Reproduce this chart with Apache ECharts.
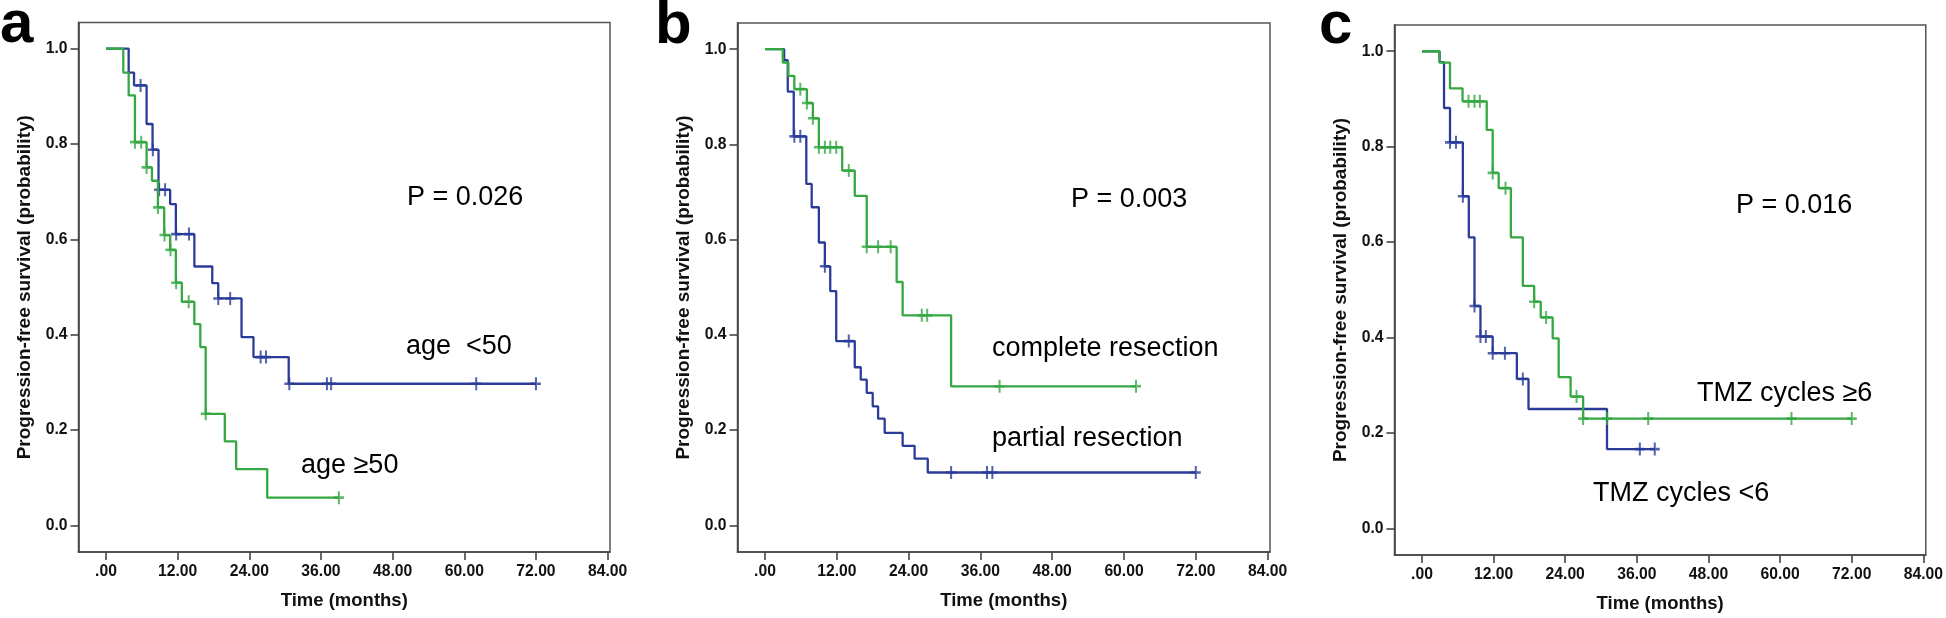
<!DOCTYPE html>
<html><head><meta charset="utf-8">
<script src="https://cdn.jsdelivr.net/npm/echarts@6/dist/echarts.min.js"></script>
<style>html,body{margin:0;padding:0;background:#fff}#c{width:1946px;height:618px}</style>
</head><body><div id="c"></div>
<script>
// ---------- axis ticks ----------
const xTickValues = [0, 12, 24, 36, 48, 60, 72, 84];
const xTickLabels = ['.00', '12.00', '24.00', '36.00', '48.00', '60.00', '72.00', '84.00'];
const yTickValues = [0, 0.2, 0.4, 0.6, 0.8, 1.0];
const yTickLabels = ['0.0', '0.2', '0.4', '0.6', '0.8', '1.0'];

// ---------- panel a : age ----------
const aLt50Times  = [3.8, 4.7, 6.8, 7.8, 8.8, 10.75, 11.7, 14.8, 17.8, 18.8, 22.7, 24.7, 30.6];
const aLt50Surv   = [0.950, 0.923, 0.842, 0.788, 0.704, 0.674, 0.611, 0.543, 0.508, 0.476, 0.395, 0.353, 0.297];
const aLt50Censor = [5.8, 7.85, 8.9, 9.9, 11.75, 13.9, 18.8, 20.8, 25.9, 26.8, 30.7, 37.0, 37.7, 62.0, 72.0];
const aGe50Times  = [2.9, 3.8, 4.85, 6.8, 7.7, 8.7, 9.75, 10.75, 11.7, 12.7, 14.8, 15.8, 16.7, 19.9, 21.8, 27.0];
const aGe50Surv   = [0.950, 0.902, 0.804, 0.751, 0.723, 0.667, 0.609, 0.578, 0.509, 0.469, 0.422, 0.374, 0.234, 0.176, 0.118, 0.058];
const aGe50Censor = [4.85, 5.9, 6.8, 8.7, 9.8, 10.8, 11.75, 13.85, 16.7, 39.0];

// ---------- panel b : resection ----------
const bCompTimes  = [2.97, 3.9, 4.9, 7.0, 8.0, 9.0, 12.9, 15.0, 17.0, 22.0, 23.0, 31.1];
const bCompSurv   = [0.972, 0.944, 0.916, 0.887, 0.855, 0.794, 0.745, 0.692, 0.585, 0.511, 0.441, 0.292];
const bCompCensor = [5.9, 7.0, 8.0, 9.0, 10.0, 10.9, 11.9, 14.0, 17.0, 18.9, 21.0, 26.2, 27.1, 39.2, 62.0];
const bPartTimes  = [3.2, 3.8, 4.8, 6.9, 7.8, 9.0, 10.0, 10.9, 11.9, 15.0, 16.0, 17.0, 18.0, 18.9, 20.0, 23.0, 25.0, 27.2];
const bPartSurv   = [0.977, 0.911, 0.817, 0.717, 0.668, 0.594, 0.544, 0.492, 0.387, 0.332, 0.306, 0.278, 0.250, 0.224, 0.194, 0.167, 0.140, 0.111];
const bPartCensor = [4.9, 5.9, 10.0, 14.0, 31.1, 37.1, 38.0, 72.0];

// ---------- panel c : TMZ cycles ----------
const cGe6Times  = [2.95, 4.7, 6.8, 10.85, 11.85, 12.85, 14.9, 16.9, 18.8, 19.9, 21.9, 22.9, 24.9, 27.0];
const cGe6Surv   = [0.976, 0.922, 0.895, 0.835, 0.745, 0.713, 0.610, 0.508, 0.475, 0.442, 0.398, 0.317, 0.276, 0.230];
const cGe6Censor = [7.8, 8.8, 9.7, 11.85, 14.0, 18.8, 20.8, 25.9, 27.0, 31.0, 37.9, 61.9, 72.0];
const cLt6Times  = [2.95, 3.7, 4.7, 6.85, 7.85, 8.8, 9.8, 11.85, 15.9, 17.85, 31.0];
const cLt6Surv   = [0.977, 0.881, 0.809, 0.696, 0.610, 0.466, 0.402, 0.367, 0.313, 0.250, 0.166];
const cLt6Censor = [4.7, 5.7, 6.85, 8.8, 9.8, 10.7, 11.85, 13.9, 16.9, 36.5, 39.0];

const BLUE = '#2b3c98';
const GREEN = '#35a843';
const FONT = '"Liberation Sans", Arial, sans-serif';

function curve(times, surv, censor) {
  const pts = [[0, 1]];
  times.forEach((t, i) => pts.push([t, surv[i]]));
  const endT = Math.max(times[times.length - 1], censor[censor.length - 1]);
  pts.push([endT, surv[surv.length - 1]]);
  return pts;
}
function censorPts(times, surv, censor) {
  return censor.map(t => {
    let s = 1;
    times.forEach((tt, i) => { if (tt <= t + 1e-9) s = surv[i]; });
    return [t, s];
  });
}

const grids = [
  { left: 78.5, top: 22.5, width: 531.5, height: 529.5 },
  { left: 737.5, top: 23, width: 532.5, height: 529 },
  { left: 1394.5, top: 25, width: 533.5, height: 530 }
];

const xAxes = grids.map((g, i) => ({
  type: 'value', gridIndex: i, min: -4.6, max: 84.4,
  axisLine: { show: true, onZero: false, lineStyle: { color: '#444', width: 1.6 } },
  axisTick: { show: true, customValues: xTickValues, length: 8, lineStyle: { color: '#444', width: 1.6 } },
  axisLabel: { customValues: xTickValues, margin: 12, color: '#111', fontFamily: FONT, fontWeight: 'bold', fontSize: 15.7,
    formatter: v => xTickLabels[xTickValues.indexOf(Math.round(v))] ?? '' },
  splitLine: { show: false },
  name: 'Time (months)', nameLocation: 'middle', nameGap: 39,
  nameTextStyle: { color: '#111', fontFamily: FONT, fontWeight: 'bold', fontSize: 18.5 }
}));
const yAxes = grids.map((g, i) => ({
  type: 'value', gridIndex: i, min: -0.056, max: 1.055,
  axisLine: { show: true, onZero: false, lineStyle: { color: '#444', width: 1.6 } },
  axisTick: { show: true, customValues: yTickValues, length: 8, lineStyle: { color: '#444', width: 1.6 } },
  axisLabel: { customValues: yTickValues, margin: 11, color: '#111', fontFamily: FONT, fontWeight: 'bold', fontSize: 15.7,
    formatter: v => yTickLabels[yTickValues.findIndex(t => Math.abs(t - v) < 1e-6)] ?? '' },
  splitLine: { show: false },
  name: 'Progression-free survival (probability)', nameLocation: 'middle', nameGap: 44,
  nameTextStyle: { color: '#111', fontFamily: FONT, fontWeight: 'bold', fontSize: 19 }
}));

const groups = [
  { p: 0, times: aLt50Times, surv: aLt50Surv, cens: aLt50Censor, color: BLUE, z: 2 },
  { p: 0, times: aGe50Times, surv: aGe50Surv, cens: aGe50Censor, color: GREEN, z: 3 },
  { p: 1, times: bPartTimes, surv: bPartSurv, cens: bPartCensor, color: BLUE, z: 2 },
  { p: 1, times: bCompTimes, surv: bCompSurv, cens: bCompCensor, color: GREEN, z: 3 },
  { p: 2, times: cLt6Times, surv: cLt6Surv, cens: cLt6Censor, color: BLUE, z: 2 },
  { p: 2, times: cGe6Times, surv: cGe6Surv, cens: cGe6Censor, color: GREEN, z: 3 }
];
const series = [];
groups.forEach(g => {
  series.push({
    type: 'line', xAxisIndex: g.p, yAxisIndex: g.p, step: 'end', showSymbol: false, z: g.z,
    lineStyle: { color: g.color, width: 2.3 }, data: curve(g.times, g.surv, g.cens), silent: true
  });
  series.push({
    type: 'scatter', xAxisIndex: g.p, yAxisIndex: g.p, z: g.z,
    symbol: 'path://M5,0L5,12M0,6L10,6', symbolSize: [10, 13],
    itemStyle: { color: 'rgba(0,0,0,0)', borderColor: g.color, borderWidth: 2.3 },
    data: censorPts(g.times, g.surv, g.cens), silent: true
  });
});

function txt(text, x, y, size, weight) {
  return { type: 'text', x: 0, y: 0, silent: true,
    style: { text, x, y, fill: '#000', font: (weight || 'normal') + ' ' + size + 'px ' + FONT, align: 'left', verticalAlign: 'middle' } };
}
const graphics = [
  txt('a', 0, 25, 60, 'bold'),
  txt('b', 655, 26, 60, 'bold'),
  txt('c', 1319, 26, 60, 'bold'),
  txt('P = 0.026', 407, 198, 27),
  txt('age  <50', 406, 347, 27),
  txt('age \u226550', 301, 466, 27),
  txt('P = 0.003', 1071, 200, 27),
  txt('complete resection', 992, 349, 27),
  txt('partial resection', 992, 439, 27),
  txt('P = 0.016', 1736, 206, 27),
  txt('TMZ cycles \u22656', 1697, 394, 27),
  txt('TMZ cycles <6', 1593, 494, 27)
];

const chart = echarts.init(document.getElementById('c'), null, { renderer: 'canvas' });
chart.setOption({
  animation: false,
  backgroundColor: '#fff',
  grid: grids.map(g => Object.assign({ show: true, borderColor: '#555', borderWidth: 1.5, backgroundColor: 'transparent' }, g)),
  xAxis: xAxes,
  yAxis: yAxes,
  series,
  graphic: graphics
});
</script></body></html>
